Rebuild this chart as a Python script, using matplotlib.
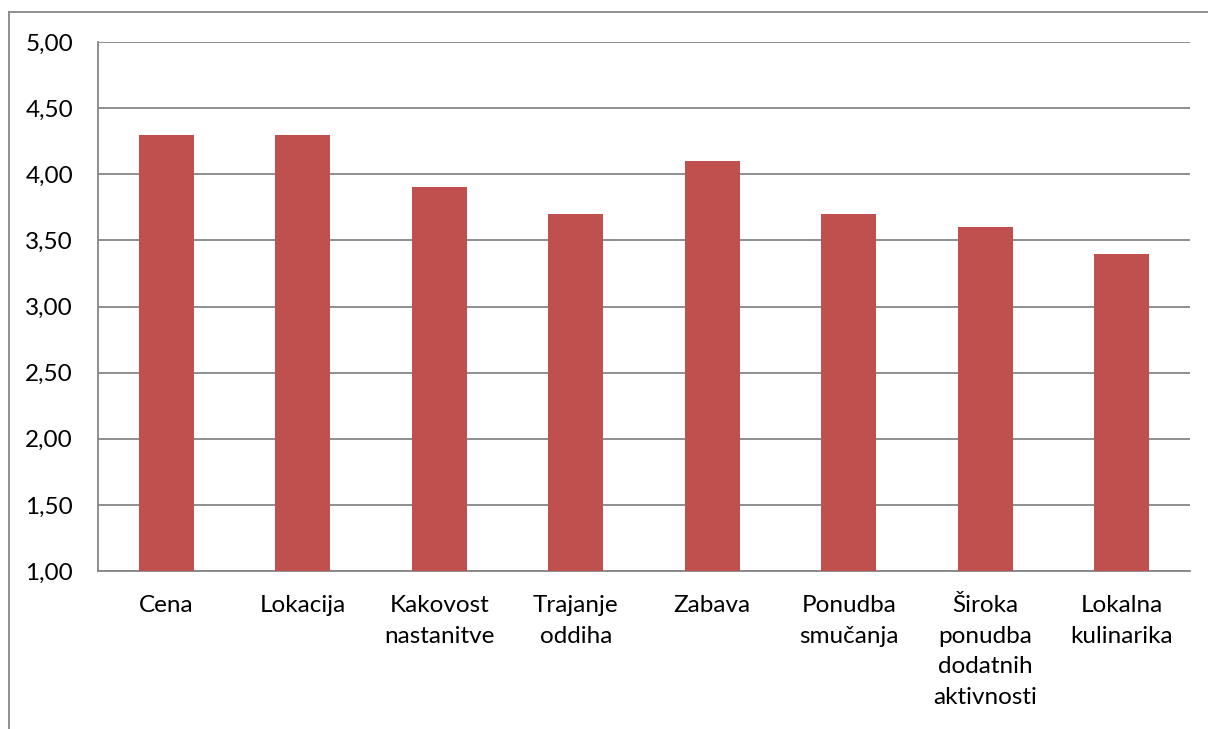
import matplotlib.pyplot as plt
from matplotlib.ticker import FuncFormatter
from matplotlib.lines import Line2D

# podatki
kategorije = ['Cena', 'Lokacija', 'Kakovost\nnastanitve', 'Trajanje\noddiha', 'Zabava',
              'Ponudba\nsmučanja', 'Široka\nponudba\ndodatnih\naktivnosti', 'Lokalna\nkulinarika']
vrednosti = [4.3, 4.3, 3.9, 3.7, 4.1, 3.7, 3.6, 3.4]
y_ticks = [1.0, 1.5, 2.0, 2.5, 3.0, 3.5, 4.0, 4.5, 5.0]

plt.rcParams['font.family'] = ['Lato', 'DejaVu Sans']

fig = plt.figure(figsize=(12.08, 7.29), dpi=100)
ax = fig.add_axes([98 / 1208, 1 - 571 / 729, (1190 - 98) / 1208, (571 - 42) / 729])

x = range(len(kategorije))
ax.bar(x, vrednosti, width=0.4, color='#C0504D', zorder=3)

ax.set_xlim(-0.5, len(kategorije) - 0.5)
ax.set_ylim(1, 5)
ax.set_yticks(y_ticks)
ax.yaxis.set_major_formatter(FuncFormatter(lambda v, p: f'{v:.2f}'.replace('.', ',')))
ax.set_xticks(list(x))
ax.set_xticklabels(kategorije, va='top', linespacing=1.56)

ax.grid(axis='y', color='#868686', linewidth=1.3, zorder=0)
for s in ['top', 'right']:
    ax.spines[s].set_visible(False)
for s in ['left', 'bottom']:
    ax.spines[s].set_color('#868686')
    ax.spines[s].set_linewidth(1.3)
ax.tick_params(axis='both', length=0, labelsize=17.5, colors='black')
ax.tick_params(axis='y', pad=18)
ax.tick_params(axis='x', pad=17.5)

# okvir grafikona
fig.add_artist(Line2D([9 / 1208, 1], [1 - 12 / 729, 1 - 12 / 729], color='#868686', linewidth=1.3))
fig.add_artist(Line2D([9 / 1208, 9 / 1208], [0, 1 - 12 / 729], color='#868686', linewidth=1.3))

fig.savefig('out.png', dpi=100)
